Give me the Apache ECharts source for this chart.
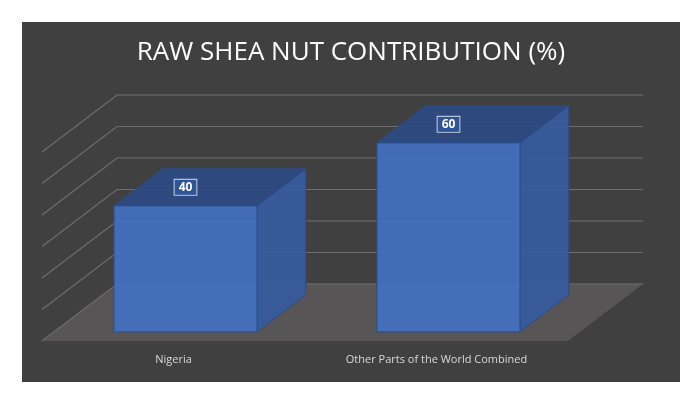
<!DOCTYPE html>
<html>
<head>
<meta charset="utf-8">
<script src="https://cdn.jsdelivr.net/npm/echarts@6/dist/echarts.min.js"></script>
<style>
  body { margin: 0; background: #fff; }
  #main { position: absolute; left: 22px; top: 22px; width: 658px; height: 360px; background: #404040; }
</style>
</head>
<body>
<div id="main"></div>
<script>
// 数据
var categories = ['Nigeria', 'Other Parts of the World Combined'];
var values = [40, 60];
var gridValues = [0, 10, 20, 30, 40, 50, 60];

// 透视偏移
var DX = 75, DY = -57;
var D0 = 0.16, D1 = 0.81;
var BAR_W = 0.544;

var chart = echarts.init(document.getElementById('main'));

function off(p, d) { return [p[0] + DX * d, p[1] + DY * d]; }

var option = {
    animation: false,
    title: {
        text: 'RAW SHEA NUT CONTRIBUTION (%)',
        left: 'center', top: 13,
        textStyle: { color: '#fff', fontSize: 26, fontWeight: 'normal', fontFamily: 'Open Sans' }
    },
    grid: { left: 20, right: 112, top: 130, bottom: 41 },
    xAxis: {
        type: 'category', data: categories,
        axisLine: { show: false }, axisTick: { show: false },
        axisLabel: { color: '#d9d9d9', fontSize: 11, margin: 13, fontFamily: 'Open Sans' }
    },
    yAxis: { type: 'value', min: 0, max: 60, interval: 10, show: false },
    series: [
        {
            // 地板
            type: 'custom', data: [[0, 0]], silent: true, z: 1,
            renderItem: function (params, api) {
                var cs = params.coordSys;
                var y0 = api.coord([0, 0])[1];
                var fl = [cs.x, y0], fr = [cs.x + cs.width, y0];
                return {
                    type: 'polygon',
                    shape: { points: [fl, off(fl, 1), off(fr, 1), fr] },
                    style: { fill: '#575555' }
                };
            }
        },
        {
            // 网格线
            type: 'custom', silent: true, z: 2,
            data: gridValues.map(function (v) { return [0, v]; }),
            renderItem: function (params, api) {
                var cs = params.coordSys;
                var y = api.coord([0, api.value(1)])[1];
                var p0 = [cs.x, y], p1 = off(p0, 1);
                var p2 = [cs.x + cs.width + DX, p1[1]];
                return {
                    type: 'polyline',
                    shape: { points: [p0, p1, p2] },
                    style: { stroke: '#6e6e6e', lineWidth: 1.2, fill: null }
                };
            }
        },
        {
            // 柱子
            type: 'custom', z: 3,
            data: values.map(function (v, i) { return [i, v]; }),
            renderItem: function (params, api) {
                var base = api.coord([api.value(0), 0]);
                var top = api.coord([api.value(0), api.value(1)]);
                var hw = api.size([1, 0])[0] * BAR_W / 2;
                var fbl = off([base[0] - hw, base[1]], D0), fbr = off([base[0] + hw, base[1]], D0);
                var ftl = off([base[0] - hw, top[1]], D0), ftr = off([base[0] + hw, top[1]], D0);
                var d = D1 - D0;
                var btl = off(ftl, d), btr = off(ftr, d), bbr = off(fbr, d);
                var line = '#2c4d8a';
                var lx = (ftl[0] + ftr[0]) / 2;
                var ly = (ftl[1] + btl[1]) / 2;
                return {
                    type: 'group',
                    children: [
                        { type: 'polygon', shape: { points: [fbr, ftr, btr, bbr] },
                          style: { fill: 'rgba(54,91,158,0.92)', stroke: line, lineWidth: 1 } },
                        { type: 'polygon', shape: { points: [ftl, btl, btr, ftr] },
                          style: { fill: 'rgba(44,74,130,0.95)', stroke: line, lineWidth: 1 } },
                        { type: 'polygon', shape: { points: [fbl, ftl, ftr, fbr] },
                          style: { fill: 'rgba(67,112,190,0.93)', stroke: line, lineWidth: 1 } },
                        { type: 'text', x: lx, y: ly,
                          style: { text: String(api.value(1)), fill: '#fff', fontSize: 12, fontWeight: 'bold',
                                   fontFamily: 'Open Sans', align: 'center', verticalAlign: 'middle',
                                   backgroundColor: '#2f5597', borderColor: '#c8d0e0', borderWidth: 1,
                                   padding: [2, 4, 1, 4] } }
                    ]
                };
            }
        }
    ]
};

chart.setOption(option);
</script>
</body>
</html>
